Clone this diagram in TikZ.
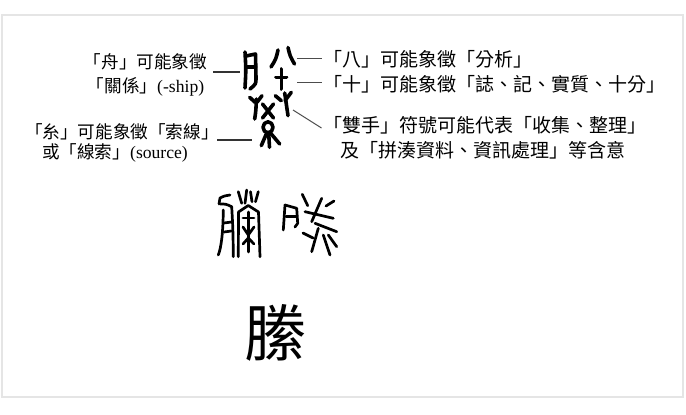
\documentclass[tikz,border=0pt]{standalone}
\usepackage{fontspec}
\newfontfamily\cjk{Noto Sans CJK TC}
\newfontfamily\latinserif{Liberation Serif}
\begin{document}
\begin{tikzpicture}[x=1pt,y=-1pt,
  cjkR/.style={font=\cjk\fontsize{19}{19}\selectfont, inner sep=0pt},
  cjkL/.style={font=\cjk\fontsize{17.6}{18}\selectfont, inner sep=0pt},
  bigchar/.style={font=\cjk\fontsize{62}{62}\selectfont, inner sep=0pt},
  leadL/.style={line width=2pt, draw=black!80},
  leadR/.style={line width=1pt, draw=black!70},
  glyph/.style={line width=3.6pt, line cap=round, line join=round},
  seal/.style={line width=2.7pt, line cap=round, line join=round}]
\useasboundingbox (0,0) rectangle (686,415);
\fill[white] (0,0) rectangle (686,415);
\draw[black!10, line width=1.5pt] (2,15) rectangle (683,397);

% left labels
\node[cjkL] (t1) at (145.5,61.7) {「舟」可能象徵};
\node[cjkL] (t2) at (145.5,86.7) {「關係」{\latinserif (-ship)}};
\node[cjkL] (t3) at (122,131.7) {「糸」可能象徵「索線」};
\node[cjkL] (t4) at (115,153.3) {或「線索」{\latinserif (source)}};

% right labels
\node[cjkR, anchor=west] (r1) at (323,59) {「八」可能象徵「分析」};
\node[cjkR, anchor=west] (r2) at (323,84) {「十」可能象徵「誌、記、實質、十分」};
\node[cjkR, anchor=west] (r3) at (323,125) {「雙手」符號可能代表「收集、整理」};
\node[cjkR, anchor=west] (r4) at (340,150) {及「拼湊資料、資訊處理」等含意};

% leader lines
\coordinate (a1) at (213,72);   \coordinate (b1) at (240,72);
\coordinate (a2) at (217,139.5); \coordinate (b2) at (252,139.5);
\coordinate (a3) at (297,58);   \coordinate (b3) at (322,58);
\coordinate (a4) at (297,82);   \coordinate (b4) at (322,82);
\coordinate (a5) at (293,110);  \coordinate (b5) at (321.5,128);
\draw[leadL] (a1) -- (b1);
\draw[leadL] (a2) -- (b2);
\draw[leadR] (a3) -- (b3);
\draw[leadR] (a4) -- (b4);
\draw[leadR] (a5) -- (b5);

% ancient glyph (top)
\draw[glyph] (245,52) .. controls (246,70) .. (245,88);
\draw[glyph] (246,56) -- (255.5,54) -- (256,78) .. controls (256,84) .. (250,89);
\draw[glyph] (246,67) -- (255.5,67);
\draw[glyph] (278,50) .. controls (276,59) .. (271,67);
\draw[glyph] (288,47.5) .. controls (290,56) .. (294.5,64);
\draw[glyph] (281.3,69) -- (281.3,89);
\draw[glyph] (276,77.3) -- (286.5,77.3);
\draw[glyph] (249.7,97.3) -- (255,102.3);
\draw[glyph] (262,95.7) -- (257,102.3);
\draw[glyph] (256.3,99) .. controls (256,110) .. (254.7,119);
\draw[glyph] (275.3,95.7) -- (281.3,100.7);
\draw[glyph] (291.3,92.3) -- (285,100.7);
\draw[glyph] (284.7,93) .. controls (286,104) .. (288,115.7);
\draw[glyph] (262.5,104) -- (273.5,118);
\draw[glyph] (273.5,104) -- (262.5,118);
\draw[glyph] (268,127.3) ellipse [x radius=5, y radius=5.5];
\draw[glyph] (266.3,134) -- (261.3,145.7);
\draw[glyph] (268.7,133) -- (269.5,147.3);
\draw[glyph] (271.3,134) -- (279.7,144);

% seal glyph (left)
\draw[seal] (230,195) .. controls (224,196) .. (220,198) -- (219,204);
\draw[seal] (220,204) .. controls (226,204) .. (231.7,206.7);
\draw[seal] (223.3,210) .. controls (223,235) and (221,248) .. (218.3,255);
\draw[seal] (231.7,206.7) .. controls (233,230) .. (233.3,256.7);
\draw[seal] (224,223) -- (231.5,222);
\draw[seal] (224,232) -- (231.5,231);
\draw[seal] (238.3,191.7) -- (241.7,203.3);
\draw[seal] (246.7,190) -- (245,203.3);
\draw[seal] (250.5,191.7) -- (252,201.7);
\draw[seal] (258.3,191.7) -- (255.5,201.7);
\draw[seal] (238.3,256.7) -- (238.5,212) -- (248.3,205.5) -- (258.5,212) -- (260,256.7);
\draw[seal] (243,218) -- (254,218);
\draw[seal] (248.3,212) -- (248.3,252);
\draw[seal] (243,227) -- (248.3,235) -- (254,227);
\draw[seal] (243,244) -- (248.3,238) -- (254,244);

% seal glyph (right)
\draw[seal] (285,205) .. controls (285,218) .. (283.3,230);
\draw[seal] (285,205) -- (296.7,208.3) .. controls (298,216) .. (297.7,223.3) -- (295,227);
\draw[seal] (286,216.7) -- (296.5,216.7);
\draw[seal] (302.3,194.3) -- (307.7,205.7);
\draw[seal] (305,211.7) -- (333.3,218.3);
\draw[seal] (321.7,198.3) -- (311.7,221.7);
\draw[seal] (326,206) -- (334,201);
\draw[seal] (315,223.3) -- (336.7,231.7);
\draw[seal] (318.3,228.3) -- (311.7,251.7);
\draw[seal] (303,233) -- (313,238);
\draw[seal] (323.3,235) -- (330,255);
\draw[seal] (328.3,235) -- (336.7,246.7);

% modern character
\node[bigchar] (big) at (275,333) {縢};
\end{tikzpicture}
\end{document}
